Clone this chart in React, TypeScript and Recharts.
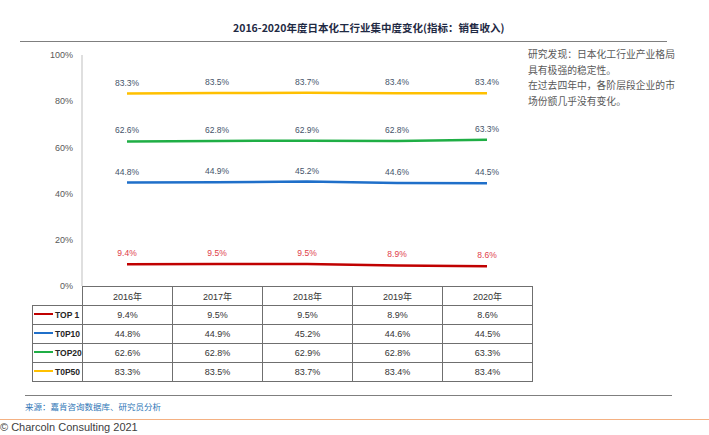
import { LabelList, Line, LineChart, XAxis, YAxis } from 'recharts'

const years = ['2016年', '2017年', '2018年', '2019年', '2020年']
const top1 = [9.4, 9.5, 9.5, 8.9, 8.6]
const top10 = [44.8, 44.9, 45.2, 44.6, 44.5]
const top20 = [62.6, 62.8, 62.9, 62.8, 63.3]
const top50 = [83.3, 83.5, 83.7, 83.4, 83.4]
const yTicks = [0, 20, 40, 60, 80, 100]

const title = '2016-2020年度日本化工行业集中度变化(指标：销售收入)'
const noteLines = [
	'研究发现：日本化工行业产业格局',
	'具有极强的稳定性。',
	'在过去四年中，各阶层段企业的市',
	'场份额几乎没有变化。',
]
const sourceText = '来源：嘉肯咨询数据库、研究员分析'
const copyright = '© Charcoln Consulting 2021'

const series = [
	{ key: 'top1', label: 'TOP 1', values: top1, color: '#c00000', labelColor: '#e0404a' },
	{ key: 'top10', label: 'T0P10', values: top10, color: '#1f6fc9', labelColor: '#44546a' },
	{ key: 'top20', label: 'TOP20', values: top20, color: '#1fae45', labelColor: '#44546a' },
	{ key: 'top50', label: 'T0P50', values: top50, color: '#ffc000', labelColor: '#44546a' },
]

const chartData = years.map((year, i) => {
	const row: Record<string, number | string> = { year }
	series.forEach((s) => {
		row[s.key] = s.values[i]
	})
	return row
})

const latin = '"Liberation Sans", "Noto Sans CJK SC", sans-serif'
const cjk = '"Noto Sans CJK SC", "Liberation Sans", sans-serif'
const border = '1px solid #6f6f6f'

function DataTable() {
	const cell: React.CSSProperties = {
		border,
		width: 89,
		height: 18,
		padding: 0,
		textAlign: 'center',
		fontSize: 9,
		color: '#333',
		fontFamily: latin,
	}
	return (
		<table
			style={{
				position: 'absolute',
				left: 32,
				top: 286,
				borderCollapse: 'collapse',
				tableLayout: 'fixed',
			}}
		>
			<tbody>
				<tr>
					<td style={{ ...cell, width: 49, borderTop: 'none', borderLeft: 'none' }} />
					{years.map((y) => (
						<td key={y} style={cell}>
							{y}
						</td>
					))}
				</tr>
				{series.map((s) => (
					<tr key={s.key}>
						<td style={{ ...cell, width: 49, textAlign: 'left', color: '#262626' }}>
							<span
								style={{
									display: 'inline-block',
									width: 19,
									height: 2,
									background: s.color,
									verticalAlign: 'middle',
									margin: '0 2px 4px 1px',
								}}
							/>
							<span style={{ fontSize: 8.5, fontWeight: 600 }}>{s.label}</span>
						</td>
						{s.values.map((v, i) => (
							<td key={i} style={cell}>
								{`${v}%`}
							</td>
						))}
					</tr>
				))}
			</tbody>
		</table>
	)
}

export default function App() {
	return (
		<div style={{ position: 'relative', width: 709, height: 435, background: '#fff', overflow: 'hidden' }}>
			<style>{'body{margin:0}'}</style>
			<div
				style={{
					position: 'absolute',
					left: 233,
					top: 21,
					fontFamily: cjk,
					fontSize: 10.5,
					fontWeight: 'bold',
					lineHeight: '14px',
					color: '#1f2a44',
					whiteSpace: 'nowrap',
				}}
			>
				{title}
			</div>
			<div style={{ position: 'absolute', left: 20, top: 41, width: 647, height: 1, background: '#7f7f7f' }} />
			<div
				style={{
					position: 'absolute',
					left: 528,
					top: 47,
					fontFamily: cjk,
					fontSize: 9.8,
					lineHeight: '15.6px',
					color: '#595959',
					whiteSpace: 'nowrap',
				}}
			>
				{noteLines.map((t) => (
					<div key={t}>{t}</div>
				))}
			</div>

			<div style={{ position: 'absolute', left: 0, top: 0 }}>
				<LineChart
					width={709}
					height={435}
					data={chartData}
					margin={{ top: 55, right: 177, bottom: 149, left: 0 }}
				>
					<XAxis dataKey="year" hide padding={{ left: 45, right: 45 }} />
					<YAxis
						width={82}
						domain={[0, 100]}
						ticks={yTicks}
						tickFormatter={(v) => `${v}%`}
						tickLine={false}
						tickMargin={3}
						axisLine={{ stroke: '#bfbfbf' }}
						tick={{ fill: '#595959', fontSize: 9, fontFamily: latin }}
					/>
					{series.map((s) => (
						<Line
							key={s.key}
							type="linear"
							dataKey={s.key}
							stroke={s.color}
							strokeWidth={2.5}
							dot={false}
							isAnimationActive={false}
						>
							<LabelList
								dataKey={s.key}
								position="top"
								offset={8}
								formatter={(v: number) => `${v}%`}
								style={{ fill: s.labelColor, fontSize: 8.5, fontFamily: latin }}
							/>
						</Line>
					))}
				</LineChart>
			</div>

			<DataTable />

			<div style={{ position: 'absolute', left: 25, top: 395, width: 647, height: 1, background: '#7f7f7f' }} />
			<div
				style={{
					position: 'absolute',
					left: 25,
					top: 400,
					fontFamily: cjk,
					fontSize: 8.5,
					lineHeight: '12px',
					color: '#2e75b6',
					whiteSpace: 'nowrap',
				}}
			>
				{sourceText}
			</div>
			<div style={{ position: 'absolute', left: 0, top: 419, width: 709, height: 1, background: '#f4b183' }} />
			<div
				style={{
					position: 'absolute',
					left: 0,
					top: 421,
					fontFamily: latin,
					fontSize: 11,
					lineHeight: '13px',
					color: '#404040',
					whiteSpace: 'nowrap',
				}}
			>
				{copyright}
			</div>
		</div>
	)
}
